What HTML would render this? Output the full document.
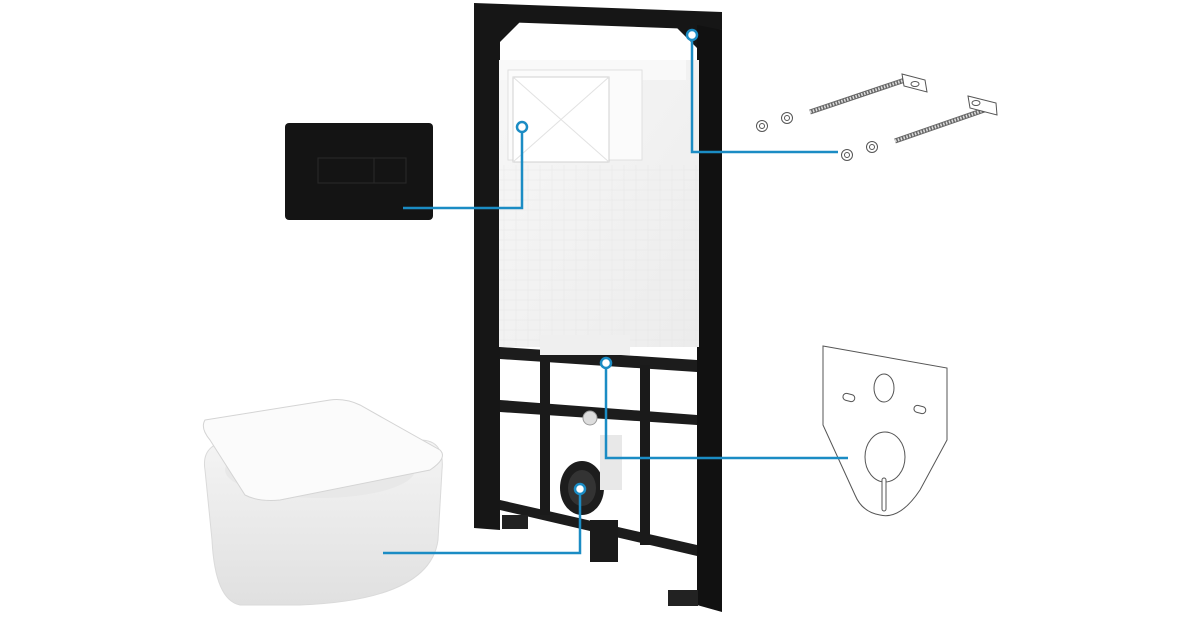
<!DOCTYPE html>
<html><head><meta charset="utf-8"><style>
html,body{margin:0;padding:0;background:#fff;width:1200px;height:630px;overflow:hidden}
svg{display:block}
</style></head><body>
<svg width="1200" height="630" viewBox="0 0 1200 630">
<defs>
<linearGradient id="tank" x1="0" y1="0" x2="1" y2="1">
<stop offset="0" stop-color="#f7f7f7"/><stop offset="1" stop-color="#ececec"/></linearGradient>
<linearGradient id="bowl" x1="0" y1="0" x2="0" y2="1">
<stop offset="0" stop-color="#f4f4f4"/><stop offset="1" stop-color="#e0e0e0"/></linearGradient>
<pattern id="grid" width="12" height="10" patternUnits="userSpaceOnUse">
<rect width="12" height="10" fill="none" stroke="#e2e2e2" stroke-width="0.6"/></pattern>
</defs>

<!-- flush plate -->
<rect x="285" y="123" width="148" height="97" rx="4" fill="#141414"/>
<rect x="318" y="158" width="56" height="25" fill="none" stroke="#2a2a2a" stroke-width="1"/>
<rect x="374" y="158" width="32" height="25" fill="none" stroke="#2a2a2a" stroke-width="1"/>

<!-- frame -->
<polygon points="474,3 722,12 722,30 500,22 500,530 474,528" fill="#161616"/>
<polygon points="500,22 520,22 500,42" fill="#161616"/>
<polygon points="677,28 697,28 697,48" fill="#161616"/>
<polygon points="697,25 722,30 722,612 697,605" fill="#111"/>
<polygon points="500,347 697,360 697,372 500,359" fill="#1c1c1c"/>
<polygon points="500,400 697,415 697,425 500,412" fill="#1c1c1c"/>
<polygon points="500,500 697,545 697,556 500,510" fill="#1c1c1c"/>
<rect x="540" y="355" width="10" height="160" fill="#1a1a1a"/>
<rect x="640" y="365" width="10" height="180" fill="#1a1a1a"/>
<rect x="502" y="515" width="26" height="14" fill="#222"/>
<rect x="668" y="590" width="30" height="16" fill="#222"/>

<!-- tank -->
<rect x="499" y="60" width="200" height="287" fill="url(#tank)"/>
<rect x="499" y="165" width="200" height="182" fill="url(#grid)" opacity="0.6"/>
<rect x="500" y="60" width="186" height="20" fill="#f9f9f9"/>
<rect x="508" y="70" width="134" height="90" fill="#fbfbfb" stroke="#e0e0e0"/>
<rect x="513" y="77" width="96" height="85" fill="#fff" stroke="#d0d0d0"/>
<line x1="513" y1="77" x2="609" y2="162" stroke="#e2e2e2"/>
<line x1="609" y1="77" x2="513" y2="162" stroke="#e2e2e2"/>
<rect x="540" y="335" width="90" height="20" fill="#efefef"/>
<circle cx="590" cy="418" r="7" fill="#ddd" stroke="#999"/>
<ellipse cx="582" cy="488" rx="22" ry="27" fill="#1d1d1d"/>
<ellipse cx="582" cy="488" rx="14" ry="18" fill="#333"/>
<rect x="590" y="520" width="28" height="42" fill="#1a1a1a"/>
<rect x="600" y="435" width="22" height="55" fill="#e8e8e8"/>

<!-- toilet -->
<path d="M205,470 Q200,440 240,440 L420,440 Q445,440 442,470 L438,540 Q430,600 300,605 L240,605 Q215,600 212,540 Z" fill="url(#bowl)" stroke="#dadada"/>
<ellipse cx="320" cy="470" rx="95" ry="28" fill="#e8e8e8"/>
<path d="M205,420 L330,400 Q345,398 360,405 L440,450 Q448,458 430,470 L280,500 Q258,502 245,495 L210,440 Q200,428 205,420 Z" fill="#fbfbfb" stroke="#d4d4d4"/>

<!-- bolts -->
<g stroke="#555" fill="#fff" stroke-width="1">
<line x1="810" y1="112" x2="905" y2="80" stroke-width="5" stroke="#666"/>
<line x1="810" y1="112" x2="905" y2="80" stroke-width="3" stroke="#ddd" stroke-dasharray="1.5 1.5"/>
<polygon points="902,74 925,80 927,92 904,86"/>
<ellipse cx="915" cy="84" rx="4" ry="2.5"/>
<line x1="895" y1="141" x2="990" y2="108" stroke-width="5" stroke="#666"/>
<line x1="895" y1="141" x2="990" y2="108" stroke-width="3" stroke="#ddd" stroke-dasharray="1.5 1.5"/>
<polygon points="968,96 996,103 997,115 970,108"/>
<ellipse cx="976" cy="103" rx="4" ry="2.5"/>
<circle cx="762" cy="126" r="5.5"/><circle cx="762" cy="126" r="2.5"/>
<circle cx="787" cy="118" r="5.5"/><circle cx="787" cy="118" r="2.5"/>
<circle cx="847" cy="155" r="5.5"/><circle cx="847" cy="155" r="2.5"/>
<circle cx="872" cy="147" r="5.5"/><circle cx="872" cy="147" r="2.5"/>
</g>

<!-- gasket -->
<g stroke="#555" fill="#fff" stroke-width="1">
<path d="M823,346 L947,368 L947,440 L920,490 Q900,520 880,515 Q862,512 855,495 L823,425 Z"/>
<ellipse cx="884" cy="388" rx="10" ry="14"/>
<ellipse cx="885" cy="457" rx="20" ry="25"/>
<rect x="843" y="394" width="12" height="7" rx="3.5" transform="rotate(15 849 397)"/>
<rect x="914" y="406" width="12" height="7" rx="3.5" transform="rotate(15 920 409)"/>
<rect x="882" y="478" width="4" height="33" rx="2"/>
</g>

<!-- connectors -->
<g stroke="#1b8cc4" stroke-width="2.5" fill="none">
<circle cx="522" cy="127" r="5" fill="#fff"/>
<polyline points="522,132 522,208 403,208"/>
<circle cx="692" cy="35" r="5" fill="#fff"/>
<polyline points="692,40 692,152 838,152"/>
<circle cx="606" cy="363" r="5" fill="#fff"/>
<polyline points="606,368 606,458 848,458"/>
<circle cx="580" cy="489" r="5" fill="#fff"/>
<polyline points="580,494 580,553 383,553"/>
</g>
</svg>
</body></html>
